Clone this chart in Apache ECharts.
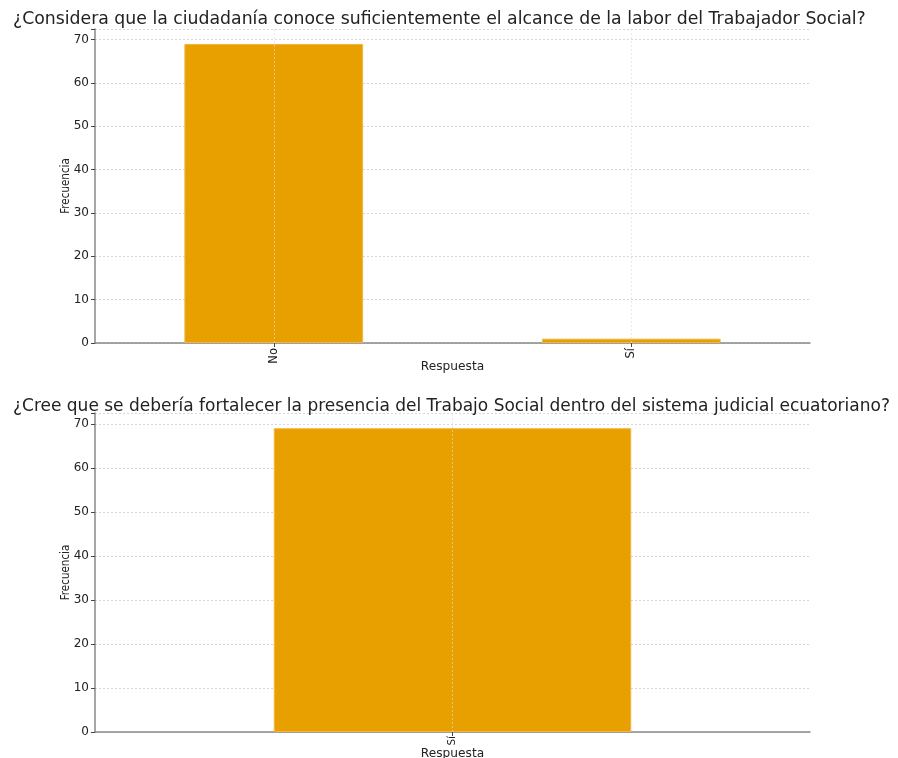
<!DOCTYPE html>
<html><head><meta charset="utf-8">
<script src="https://cdn.jsdelivr.net/npm/echarts@6/dist/echarts.min.js"></script>
<style>html,body{margin:0;padding:0;background:#fff}#c{width:898px;height:758px}</style>
</head><body><div id="c"></div>
<script>
const title1 = "¿Considera que la ciudadanía conoce suficientemente el alcance de la labor del Trabajador Social?";
const title2 = "¿Cree que se debería fortalecer la presencia del Trabajo Social dentro del sistema judicial ecuatoriano?";
const categories1 = ["No", "Sí"];
const values1 = [69, 1];
const categories2 = ["Sí"];
const values2 = [69];
const yTicks = [0, 10, 20, 30, 40, 50, 60, 70];
const xName = "Respuesta";
const yName = "Frecuencia";

const FONT = "DejaVu Sans";
const barColor = "#E8A000";
const grids = [
  {left: 95, right: 88, top: 29, height: 314, outerBoundsMode: 'none', containLabel: false},
  {left: 95, right: 88, top: 413, height: 319, outerBoundsMode: 'none', containLabel: false}
];
function xAx(i, cats) {
  return {
    type: 'category', gridIndex: i, data: cats, boundaryGap: true,
    name: xName, nameLocation: 'middle', nameGap: i === 0 ? 18 : 16, nameMoveOverlap: false,
    nameTextStyle: {fontFamily: FONT, fontSize: 12.2, color: '#222'},
    axisLine: {lineStyle: {color: '#888', width: 1.5}},
    axisTick: {show: true, alignWithLabel: true, length: 4, lineStyle: {color: '#444'}},
    axisLabel: {rotate: 90, fontFamily: FONT, fontSize: i === 0 ? 11.5 : 10.5, color: '#222', margin: i === 0 ? 5 : 4},
    splitLine: {show: false}
  };
}
function yAx(i) {
  return {
    type: 'value', gridIndex: i, min: 0, max: 72.45, interval: 10,
    name: yName, nameLocation: 'middle', nameGap: 23, nameMoveOverlap: false,
    nameTextStyle: {fontFamily: "DejaVu Sans Condensed", fontSize: 11.5, color: '#222'},
    axisLine: {show: true, lineStyle: {color: '#888', width: 1.5}},
    axisTick: {show: true, length: 4, lineStyle: {color: '#444'}},
    axisLabel: {fontFamily: FONT, fontSize: 12, color: '#222', margin: 6,
      formatter: v => yTicks.includes(v) ? String(v) : ''},
    splitLine: {show: true, lineStyle: {color: '#ccc', type: [2, 2], width: 0.8}}
  };
}
function ser(i, cats, vals) {
  return {
    type: 'bar', xAxisIndex: i, yAxisIndex: i, data: vals, barWidth: '50%',
    itemStyle: {color: barColor, borderColor: '#F2B640', borderWidth: 1},
    z: 2,
    markLine: {silent: true, symbol: 'none', label: {show: false},
      lineStyle: {color: 'rgba(220,220,220,0.8)', type: [2, 2], width: 0.8},
      data: cats.map(c => ({xAxis: c})), z: 3}
  };
}
const chart = echarts.init(document.getElementById('c'));
chart.setOption({
  animation: false,
  title: [
    {text: title1, left: 8, top: 6, textStyle: {fontFamily: FONT, fontSize: 17.3, fontWeight: 'normal', color: '#222'}},
    {text: title2, left: 8, top: 393, textStyle: {fontFamily: FONT, fontSize: 17.0, fontWeight: 'normal', color: '#222'}}
  ],
  grid: grids,
  xAxis: [xAx(0, categories1), xAx(1, categories2)],
  yAxis: [yAx(0), yAx(1)],
  series: [ser(0, categories1, values1), ser(1, categories2, values2)]
});
</script></body></html>
